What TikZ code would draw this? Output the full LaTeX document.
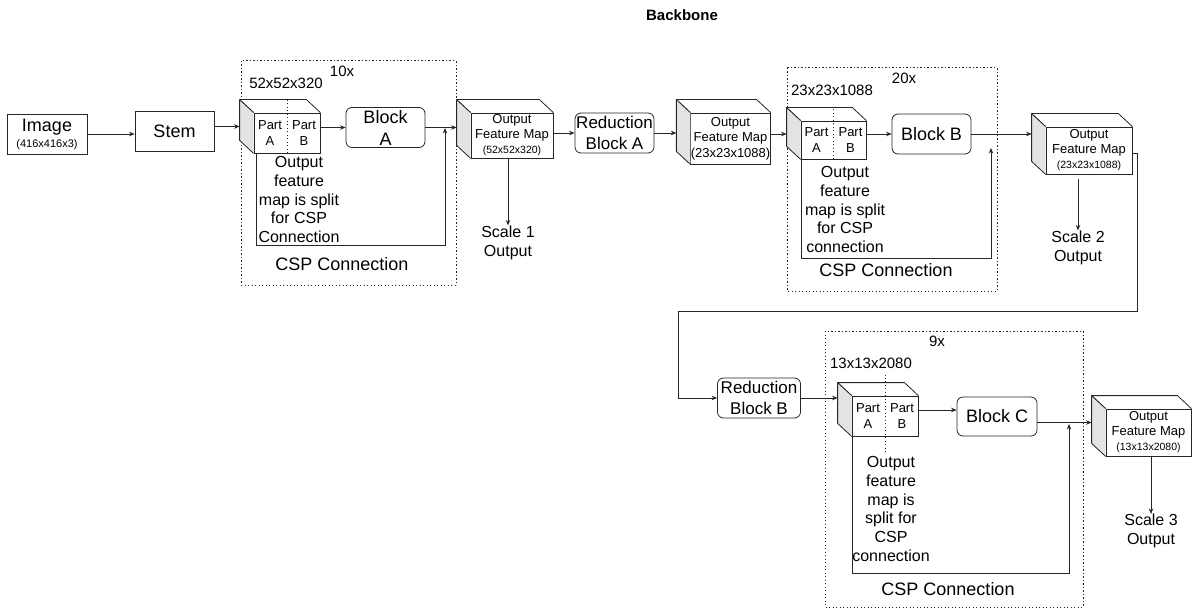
\documentclass[tikz,border=0pt]{standalone}
\usepackage{fontspec}
\setmainfont{Liberation Sans}
\usepackage{xcolor}
\usepackage{tikz}
\usetikzlibrary{arrows.meta, positioning}

\definecolor{sidegray}{HTML}{E3E3E3}

% top and left faces of a feature-map cube, drawn after its front node
\newcommand{\cubefaces}[1]{%
  \draw[face edge, fill=white] (#1.north west) -- ++(-14,-13) -- ([shift={(-14,-13)}]#1.north east) -- (#1.north east);
  \draw[face edge, fill=sidegray] (#1.north west) -- ++(-14,-13) -- ([shift={(-14,-13)}]#1.south west) -- (#1.south west);
  \coordinate (#1-in) at ([shift={(-14,-6.5)}]#1.west);
}

\begin{document}
\begin{tikzpicture}[
        x=1pt, y=-1pt,
        box/.style={draw=black!85, line width=0.8pt, minimum width=79pt, minimum height=40pt, inner sep=0pt, align=center, font=\fontsize{18}{22}\selectfont},
        rbox/.style={box, rounded corners=6pt},
        face/.style={draw=black!85, line width=0.8pt, fill=white, inner sep=0pt, align=center, font=\fontsize{13}{15}\selectfont},
        face edge/.style={draw=black!85, line width=0.8pt, line join=round},
        part/.style={inner sep=0pt, align=center, font=\fontsize{13}{16}\selectfont},
        note/.style={inner sep=0pt, align=center, font=\fontsize{16}{18.8}\selectfont},
        dims/.style={inner sep=0pt, font=\fontsize{15}{18}\selectfont},
        csp/.style={draw=black!85, line width=1pt, dash pattern=on 1.1pt off 2.4pt},
        split/.style={draw=black!85, line width=1pt, dash pattern=on 1.1pt off 2.4pt},
        arr/.style={draw=black!85, line width=0.8pt, -{Stealth[length=5.5pt, width=4.5pt]}}
    ]
    \useasboundingbox (0,0) rectangle (1193,612);

    \node[font=\fontsize{15}{18}\selectfont\bfseries] (title) at (682,15) {Backbone};

    % Input and stem
    \node[box, minimum width=80pt] (img) at (47,134) {Image\\[-6pt]{\fontsize{11}{13}\selectfont(416x416x3)}};
    \node[box] (stem) at (174.5,131.5) {Stem};

    % Stage 1 (10x)
    \draw[csp] (241,61) rectangle (456,285);
    \node[dims] (rep1) at (342,71) {10x};
    \node[dims] (dim1) at (286,83) {52x52x320};
    \node[face, minimum width=66pt, minimum height=40pt] (c1) at (287,133) {};
    \cubefaces{c1}
    \draw[split] (c1.south) -- ([yshift=13pt]c1.north);
    \node[part] (c1a) at ([xshift=-17pt]c1.center) {Part\\A};
    \node[part] (c1b) at ([xshift=17pt]c1.center) {Part\\B};
    \node[rbox] (blka) at (385.5,127.5) {Block\\A};
    \node[note] (t1) at (299,199.5) {Output\\feature\\map is split\\for CSP\\Connection};
    \node[note, font=\fontsize{18}{22}\selectfont] (csp1) at (342,264) {CSP Connection};
    \coordinate (m1) at (445,128);

    \node[face, minimum width=82pt, minimum height=45pt] (c2) at (512,135.5) {Output\\Feature Map\\{\fontsize{10.5}{12}\selectfont(52x52x320)}};
    \cubefaces{c2}
    \node[note] (s1) at (508,242.5) {Scale 1\\Output};
    \node[rbox, font=\fontsize{17}{21}\selectfont] (rba) at (614.5,133) {Reduction\\Block A};
    \node[face, minimum width=79pt, minimum height=51pt, font=\fontsize{13}{15.5}\selectfont] (c3) at (730.5,138.5) {Output\\Feature Map\\(23x23x1088)};
    \cubefaces{c3}

    % Stage 2 (20x)
    \draw[csp] (787,68) rectangle (997,291);
    \node[dims] (rep2) at (904,78) {20x};
    \node[dims] (dim2) at (832,90) {23x23x1088};
    \node[face, minimum width=65pt, minimum height=38pt] (c4) at (833.5,140) {};
    \cubefaces{c4}
    \draw[split] (c4.south) -- ([yshift=13pt]c4.north);
    \node[part] (c4a) at ([xshift=-17pt]c4.center) {Part\\A};
    \node[part] (c4b) at ([xshift=17pt]c4.center) {Part\\B};
    \node[rbox] (blkb) at (931.5,134) {Block B};
    \node[note] (t2) at (845,209.5) {Output\\feature\\map is split\\for CSP\\connection};
    \node[note, font=\fontsize{18}{22}\selectfont] (csp2) at (886,270) {CSP Connection};
    \coordinate (m2) at (991,148);

    \node[face, minimum width=86pt, minimum height=47pt] (c5) at (1089,150.5) {Output\\Feature Map\\{\fontsize{10.5}{12}\selectfont(23x23x1088)}};
    \cubefaces{c5}
    \node[note] (s2) at (1078,247.5) {Scale 2\\Output};

    % Stage 3 (9x)
    \node[rbox, minimum width=83pt, font=\fontsize{17}{21}\selectfont] (rbb) at (759,398) {Reduction\\Block B};
    \coordinate (turn) at (678,311);
    \draw[csp] (825,331) rectangle (1083,607);
    \node[dims] (rep3) at (937,341) {9x};
    \node[dims] (dim3) at (871,363) {13x13x2080};
    \node[face, minimum width=66pt, minimum height=40pt] (c6) at (885,416) {};
    \cubefaces{c6}
    \draw[split] ([yshift=-16pt]c6.south) -- ([yshift=21pt]c6.north);
    \node[part] (c6a) at ([xshift=-17pt]c6.center) {Part\\A};
    \node[part] (c6b) at ([xshift=17pt]c6.center) {Part\\B};
    \node[rbox, minimum width=80pt, minimum height=39pt] (blkc) at (997,416.5) {Block C};
    \node[note] (t3) at (891,509) {Output\\feature\\map is\\split for\\CSP\\connection};
    \node[note, font=\fontsize{18}{22}\selectfont] (csp3) at (948,589) {CSP Connection};
    \coordinate (m3) at (1069,424);

    \node[face, minimum width=85pt, minimum height=47pt] (c7) at (1148.5,432.5) {Output\\Feature Map\\{\fontsize{10.5}{12}\selectfont(13x13x2080)}};
    \cubefaces{c7}
    \node[note] (s3) at (1151,531) {Scale 3\\Output};

    % Main flow
    \draw[arr] (img.east) -- (img.east -| stem.west);
    \draw[arr] (stem.east |- c1-in) -- (c1-in);
    \draw[arr] (c1.east |- blka) -- (blka);
    \draw[arr] (blka) -- (blka -| c2-in);
    \draw[arr] (c2.east |- rba) -- (rba);
    \draw[arr] (rba) -- (rba -| c3-in);
    \draw[arr] (c3.east |- blkb) -- (blkb -| c4-in);
    \draw[arr] (c4.east |- blkb) -- (blkb);
    \draw[arr] (blkb) -- (blkb -| c5-in);
    \draw[arr] ([yshift=-3pt]c5.east) -- ++(5,0) -- ++(0,158) -| (turn) |- (rbb.west);
    \draw[arr] (rbb) -- (rbb -| c6-in);
    \draw[arr] ([yshift=6pt]c6.east) -- ([yshift=6pt]c6.east -| blkc.west);
    \draw[arr] ([yshift=-6pt]blkc.east) -- ([yshift=-6pt]blkc.east -| c7-in);

    % CSP shortcuts
    \draw[arr] ([xshift=3pt]c1.south west) -- ++(0,92) -| (m1);
    \draw[arr] ([xshift=1pt]c4.south west) -- ++(0,99) -| (m2);
    \draw[arr] ([xshift=1pt]c6.south west) -- ++(0,137) -| (m3);

    % Scale outputs
    \draw[arr] (c2.south -| s1.north) -- (s1.north);
    \draw[arr] ([yshift=-5pt]c5.south -| s2.north) -- (s2.north);
    \draw[arr] (c7.south -| s3.north) -- (s3.north);

\end{tikzpicture}
\end{document}
